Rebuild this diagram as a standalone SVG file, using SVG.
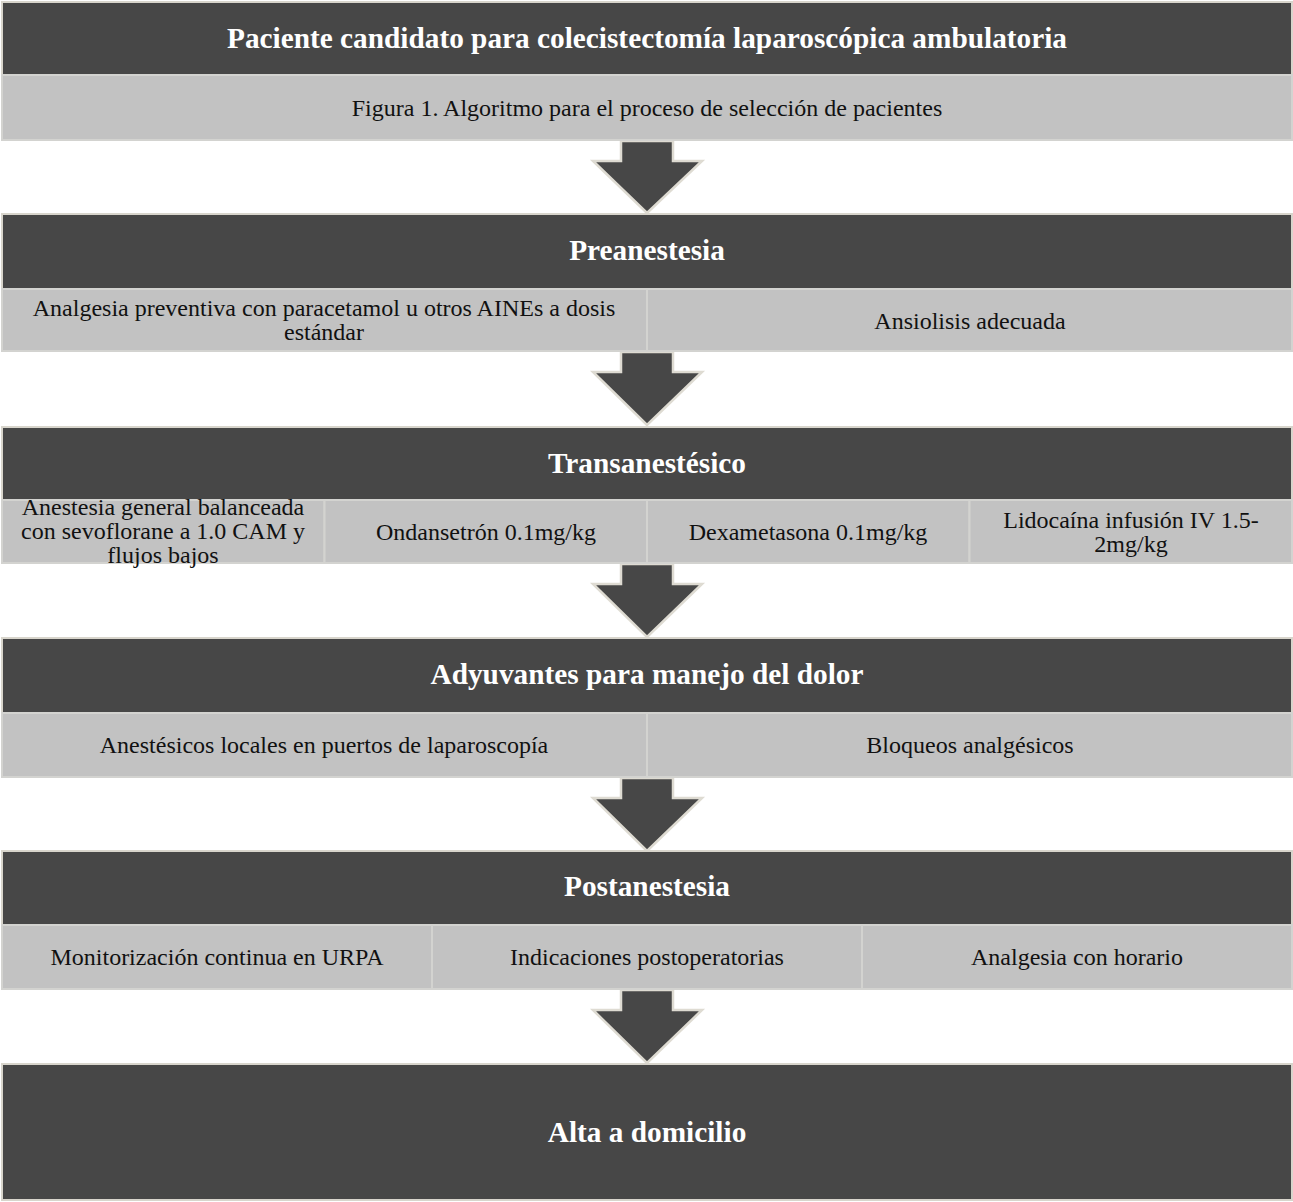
<svg xmlns="http://www.w3.org/2000/svg" width="1293" height="1202" viewBox="0 0 1293 1202">
<defs>
<style>
.hd{fill:#474747;stroke:#d8d5cc;stroke-width:2}
.cell{fill:#c2c2c2;stroke:#d3d3d0;stroke-width:2}
.arrow{fill:#474747;stroke:#dedbd2;stroke-width:2.5;stroke-linejoin:miter}
.ht{font-family:"Liberation Serif","Times New Roman",serif;font-weight:bold;font-size:29.3px;fill:#ffffff;text-anchor:middle}
.ct{font-family:"Liberation Serif","Times New Roman",serif;font-size:24px;fill:#111111;text-anchor:middle}
</style>
</defs>
<rect width="1293" height="1202" fill="#ffffff"/>

<g id="connectors">
<polygon class="arrow" points="621,141 673,141 673,161 702,161 647,213 593,161 621,161"/>
<polygon class="arrow" points="621,352 673,352 673,372 702,372 647,425 593,372 621,372"/>
<polygon class="arrow" points="621,564 673,564 673,584 702,584 647,637 593,584 621,584"/>
<polygon class="arrow" points="621,778 673,778 673,798 702,798 647,851 593,798 621,798"/>
<polygon class="arrow" points="621,990 673,990 673,1010 702,1010 647,1063 593,1010 621,1010"/>
</g>

<g id="node-paciente">
<rect class="hd" x="2" y="2" width="1290" height="73"/>
<text class="ht" x="647" y="48">Paciente candidato para colecistectomía laparoscópica ambulatoria</text>
<rect class="cell" x="2" y="75" width="1290" height="65"/>
<text class="ct" x="647" y="116">Figura 1. Algoritmo para el proceso de selección de pacientes</text>
</g>

<g id="node-preanestesia">
<rect class="hd" x="2" y="214" width="1290" height="75"/>
<text class="ht" x="647" y="260">Preanestesia</text>
<rect class="cell" x="2" y="289" width="645" height="62"/>
<rect class="cell" x="647" y="289" width="645" height="62"/>
<text class="ct" x="324" y="316">Analgesia preventiva con paracetamol u otros AINEs a dosis</text>
<text class="ct" x="324" y="340">estándar</text>
<text class="ct" x="970" y="329">Ansiolisis adecuada</text>
</g>

<g id="node-transanestesico">
<rect class="hd" x="2" y="427" width="1290" height="73"/>
<text class="ht" x="647" y="473">Transanestésico</text>
<rect class="cell" x="2" y="500" width="322.5" height="63"/>
<rect class="cell" x="324.5" y="500" width="322.5" height="63"/>
<rect class="cell" x="647" y="500" width="322.5" height="63"/>
<rect class="cell" x="969.5" y="500" width="322.5" height="63"/>
<text class="ct" x="163" y="515">Anestesia general balanceada</text>
<text class="ct" x="163" y="539">con sevoflorane a 1.0 CAM y</text>
<text class="ct" x="163" y="563">flujos bajos</text>
<text class="ct" x="486" y="540">Ondansetrón 0.1mg/kg</text>
<text class="ct" x="808" y="540">Dexametasona 0.1mg/kg</text>
<text class="ct" x="1131" y="528">Lidocaína infusión IV 1.5-</text>
<text class="ct" x="1131" y="552">2mg/kg</text>
</g>

<g id="node-adyuvantes">
<rect class="hd" x="2" y="638" width="1290" height="75"/>
<text class="ht" x="647" y="684">Adyuvantes para manejo del dolor</text>
<rect class="cell" x="2" y="713" width="645" height="64"/>
<rect class="cell" x="647" y="713" width="645" height="64"/>
<text class="ct" x="324" y="753">Anestésicos locales en puertos de laparoscopía</text>
<text class="ct" x="970" y="753">Bloqueos analgésicos</text>
</g>

<g id="node-postanestesia">
<rect class="hd" x="2" y="851" width="1290" height="74"/>
<text class="ht" x="647" y="896">Postanestesia</text>
<rect class="cell" x="2" y="925" width="430" height="64"/>
<rect class="cell" x="432" y="925" width="430" height="64"/>
<rect class="cell" x="862" y="925" width="430" height="64"/>
<text class="ct" x="217" y="965">Monitorización continua en URPA</text>
<text class="ct" x="647" y="965">Indicaciones postoperatorias</text>
<text class="ct" x="1077" y="965">Analgesia con horario</text>
</g>

<g id="node-alta">
<rect class="hd" x="2" y="1064" width="1290" height="136"/>
<text class="ht" x="647" y="1142">Alta a domicilio</text>
</g>
</svg>
